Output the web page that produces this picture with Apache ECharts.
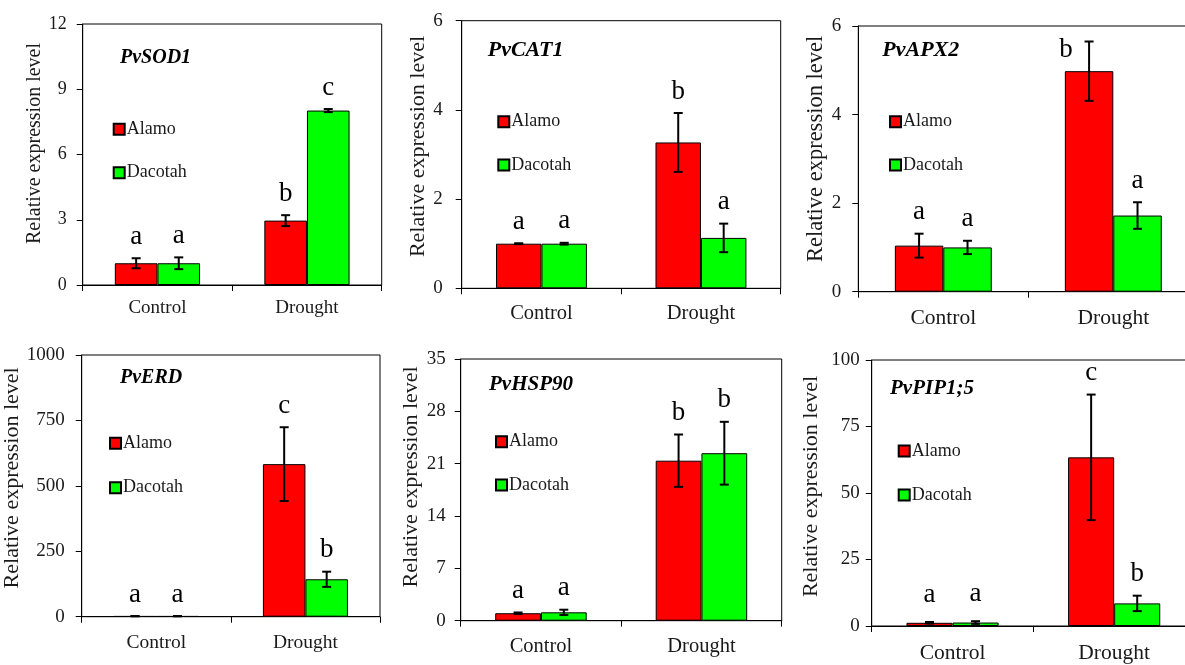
<!DOCTYPE html>
<html><head><meta charset="utf-8">
<script src="https://cdn.jsdelivr.net/npm/echarts@6/dist/echarts.min.js"></script>
<style>html,body{margin:0;padding:0;background:#fff}#c{width:1185px;height:665px}</style>
</head><body><div id="c"></div><script>
// ---- data ----
const categories = ['Control', 'Drought'];
const seriesNames = ['Alamo', 'Dacotah'];
const genes = ['PvSOD1', 'PvCAT1', 'PvAPX2', 'PvERD', 'PvHSP90', 'PvPIP1;5'];
const yMax = [12, 6, 6, 1000, 35, 100];
const yStep = [3, 2, 2, 250, 7, 25];
const alamo = [[1.0, 2.96], [1.0, 3.27], [1.04, 4.98], [2, 583], [1.0, 21.4], [1.2, 63.4]];
const alamoErr = [[0.23, 0.25], [0.01, 0.66], [0.27, 0.67], [0.3, 141], [0.1, 3.5], [0.3, 23.6]];
const dacotah = [[1.0, 8.02], [1.0, 1.13], [1.0, 1.72], [2, 143], [1.12, 22.4], [1.3, 8.5]];
const dacotahErr = [[0.27, 0.07], [0.02, 0.32], [0.15, 0.3], [0.3, 29], [0.35, 4.2], [0.5, 2.9]];
const alamoLetters = [['a', 'b'], ['a', 'b'], ['a', 'b'], ['a', 'c'], ['a', 'b'], ['a', 'c']];
const dacotahLetters = [['a', 'c'], ['a', 'a'], ['a', 'a'], ['a', 'b'], ['a', 'b'], ['a', 'b']];

// ---- layout / style ----
const SERIF = '"Liberation Serif", "Times New Roman", serif';
const TXT = '#1a1a1a';
const colors = ['#ff0000', '#00ff00'];
const panels = [
  {grid: [82.7, 24, 299, 261], tickFs: 18, xFs: 19, nameFs: 20, nameGap: 29, nameShift: 22, yMargin: 16, xMargin: 14, legend: [112.7, 120.3, 25.4], gene: [120, 48, 20]},
  {grid: [461.7, 20.7, 319, 267.6], tickFs: 19, xFs: 20.5, nameFs: 22, nameGap: 29, nameShift: 16, yMargin: 19, xMargin: 15, legend: [497.3, 112.7, 25.3], gene: [487.7, 39, 22]},
  {grid: [858.3, 26, 340, 265.7], tickFs: 19, xFs: 21.5, nameFs: 22.5, nameGap: 30, nameShift: 20, yMargin: 17, xMargin: 16, legend: [889, 112.7, 25.3], gene: [882.3, 39, 22]},
  {grid: [81.7, 355, 298.3, 261.7], tickFs: 19, xFs: 19.5, nameFs: 22, nameGap: 49, nameShift: 16, yMargin: 17, xMargin: 16, legend: [109, 434.3, 26.4], gene: [120, 368, 20]},
  {grid: [460.7, 359, 321, 261.7], tickFs: 19, xFs: 20.5, nameFs: 22, nameGap: 38, nameShift: 26, yMargin: 15, xMargin: 15, legend: [495, 432.7, 25.3], gene: [489, 374, 21]},
  {grid: [871.7, 360, 323.3, 266], tickFs: 19, xFs: 21.5, nameFs: 22, nameGap: 49, nameShift: 13, yMargin: 12, xMargin: 16, legend: [897.7, 442, 26], gene: [890, 378, 21]}
];
// letters moved from the default spot above the error bar (panel, series, category, dx, dy)
const letterShifts = [
  {p: 2, s: 0, c: 1, dx: -23, dy: 30},
  {p: 5, s: 0, c: 0, dx: 0, dy: -6},
  {p: 5, s: 1, c: 0, dx: 0, dy: -6}
];

const option = {
  backgroundColor: '#fff',
  animation: false,
  grid: [], xAxis: [], yAxis: [], legend: [], title: [], series: []
};

panels.forEach((p, i) => {
  option.grid.push({left: p.grid[0], top: p.grid[1], width: p.grid[2], height: p.grid[3],
    outerBoundsMode: 'none', containLabel: false,
    show: true, borderColor: '#000', borderWidth: 1, backgroundColor: 'transparent'});
  option.xAxis.push({type: 'category', gridIndex: i, data: categories,
    axisLine: {lineStyle: {color: '#000', width: 1}},
    axisTick: {show: true, length: 6, lineStyle: {color: '#000', width: 1}},
    axisLabel: {fontFamily: SERIF, fontSize: p.xFs, color: TXT, margin: p.xMargin},
    splitLine: {show: false}});
  option.yAxis.push({type: 'value', gridIndex: i, min: 0, max: yMax[i], interval: yStep[i],
    axisLine: {show: true, lineStyle: {color: '#000', width: 1}},
    axisTick: {show: true, length: 6, lineStyle: {color: '#000', width: 1}},
    axisLabel: {fontFamily: SERIF, fontSize: p.tickFs, color: TXT, margin: p.yMargin,
      formatter: v => String(v)},
    splitLine: {show: false},
    name: 'Relative expression level', nameLocation: 'middle', nameGap: p.nameGap,
    nameTextStyle: {fontFamily: SERIF, fontSize: p.nameFs, color: TXT, padding: [0, 0, 0, p.nameShift]}});
  option.legend.push({data: seriesNames, orient: 'vertical', left: p.legend[0], top: p.legend[1],
    itemGap: p.legend[2], itemWidth: 11, itemHeight: 11, padding: 0, icon: 'rect',
    selectedMode: false,
    textStyle: {fontFamily: SERIF, fontSize: 18, color: TXT, padding: [0, 0, 0, -3]}});
  option.title.push({text: genes[i], left: p.gene[0], top: p.gene[1], padding: 0,
    textStyle: {fontFamily: SERIF, fontSize: p.gene[2], fontStyle: 'italic', fontWeight: 'bold', color: '#000'}});

  const vals = [alamo[i], dacotah[i]];
  const errs = [alamoErr[i], dacotahErr[i]];
  const lets = [alamoLetters[i], dacotahLetters[i]];
  vals.forEach((v, s) => {
    option.series.push({type: 'bar', name: seriesNames[s], xAxisIndex: i, yAxisIndex: i,
      data: v, barGap: '0%', barCategoryGap: '43%',
      itemStyle: {color: colors[s], borderColor: '#000', borderWidth: 1}, z: 2});
  });
  const errData = [];
  [0, 1].forEach(s => [0, 1].forEach(c => errData.push([c, vals[s][c], errs[s][c], s])));
  option.series.push({type: 'custom', name: 'err' + i, xAxisIndex: i, yAxisIndex: i, z: 5,
    data: errData,
    renderItem: (params, api) => {
      const c = api.value(0), v = api.value(1), e = api.value(2), s = api.value(3);
      const band = api.size([1, 0])[0];
      const x = api.coord([c, v])[0] + (s === 0 ? -1 : 1) * band * 0.1425;
      const yHi = api.coord([c, v + e])[1];
      const yLo = api.coord([c, Math.max(v - e, 0)])[1];
      const cap = 4.5;
      const ls = {stroke: '#000', lineWidth: 2};
      let tx = x, ty = yHi - 8;
      letterShifts.forEach(sh => { if (sh.p === i && sh.s === s && sh.c === c) { tx += sh.dx; ty += sh.dy; } });
      return {type: 'group', children: [
        {type: 'line', shape: {x1: x, y1: yHi, x2: x, y2: yLo}, style: ls},
        {type: 'line', shape: {x1: x - cap, y1: yHi, x2: x + cap, y2: yHi}, style: ls},
        {type: 'line', shape: {x1: x - cap, y1: yLo, x2: x + cap, y2: yLo}, style: ls},
        {type: 'text', style: {text: lets[s][c], x: tx, y: ty, align: 'center', verticalAlign: 'bottom',
          fontFamily: SERIF, fontSize: 27, fill: '#000'}}
      ]};
    }});
});

const chart = echarts.init(document.getElementById('c'), null, {renderer: 'canvas'});
chart.setOption(option);
</script></body></html>
